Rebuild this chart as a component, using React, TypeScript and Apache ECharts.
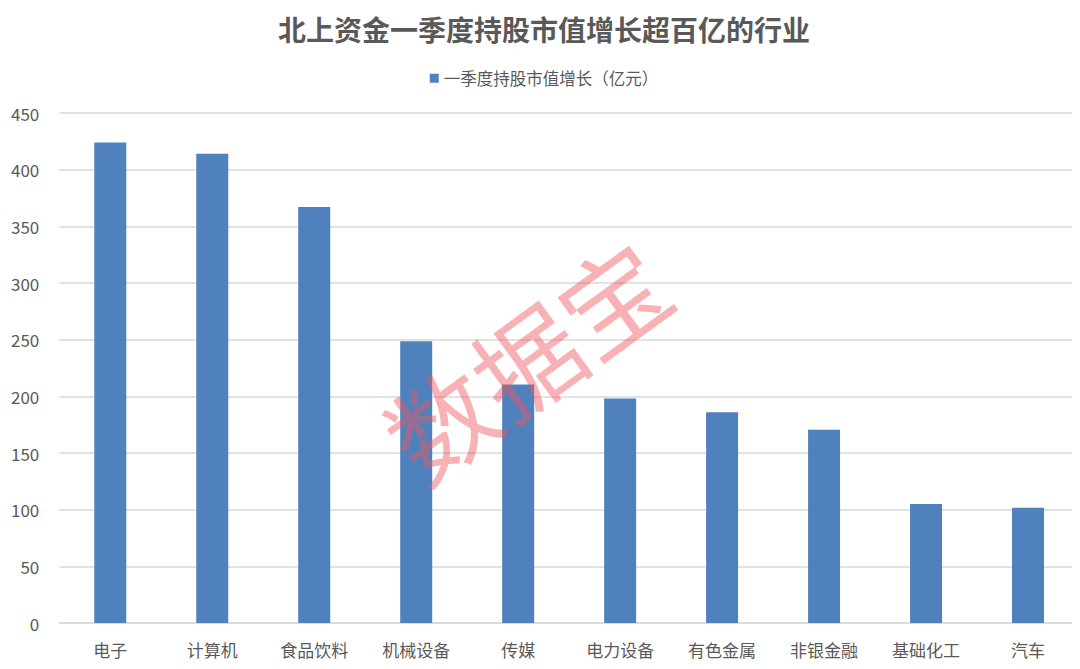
import React, { useEffect, useRef } from "react";
import * as echarts from "echarts";

const categories = ["电子", "计算机", "食品饮料", "机械设备", "传媒", "电力设备", "有色金属", "非银金融", "基础化工", "汽车"];
const values = [424, 414, 367, 248.5, 210.5, 198, 186, 170.5, 105, 101.7];
const seriesName = "一季度持股市值增长（亿元）";
const titleText = "北上资金一季度持股市值增长超百亿的行业";
const watermark = "数据宝";

export default function App() {
  const ref = useRef<HTMLDivElement>(null);
  useEffect(() => {
    if (!ref.current) return;
    const chart = echarts.init(ref.current, null, { renderer: "svg" });
    const font = "'Microsoft YaHei', 'Noto Sans CJK SC', sans-serif";
    chart.setOption({
      animation: false,
      title: {
        text: titleText,
        left: "center",
        top: 2,
        textStyle: { fontSize: 28, fontWeight: "bold", color: "#595959", fontFamily: font },
      },
      legend: {
        top: 57,
        left: "center",
        itemWidth: 9,
        itemHeight: 9,
        itemGap: 6,
        textStyle: { fontSize: 16.5, color: "#595959", fontFamily: font },
        data: [{ name: seriesName, icon: "rect" }],
      },
      grid: { left: 47, right: 1, top: 105, bottom: 46, containLabel: false },
      xAxis: {
        type: "category",
        data: categories,
        axisLine: { lineStyle: { color: "#d9d9d9", width: 1.5 } },
        axisTick: { show: false },
        axisLabel: { fontSize: 17, color: "#595959", margin: 18, fontFamily: font },
      },
      yAxis: {
        type: "value",
        min: 0,
        max: 450,
        interval: 50,
        axisLine: { show: false },
        axisTick: { show: false },
        splitLine: { lineStyle: { color: "#d9d9d9", width: 1.5 } },
        axisLabel: { fontSize: 17, color: "#595959", margin: 20, fontFamily: font },
      },
      series: [
        {
          name: seriesName,
          type: "bar",
          data: values,
          barWidth: 32,
          itemStyle: { color: "#4f81bd" },
        },
      ],
      graphic: [
        {
          type: "text",
          x: 517,
          y: 350,
          rotation: (36 * Math.PI) / 180,
          z: 100,
          style: {
            text: watermark,
            fontSize: 106,
            fontFamily: font,
            fill: "rgba(240, 85, 90, 0.45)",
            align: "center",
            verticalAlign: "middle",
          },
        },
      ],
    });
    return () => chart.dispose();
  }, []);
  return <div ref={ref} style={{ width: 1072, height: 661 }} />;
}
